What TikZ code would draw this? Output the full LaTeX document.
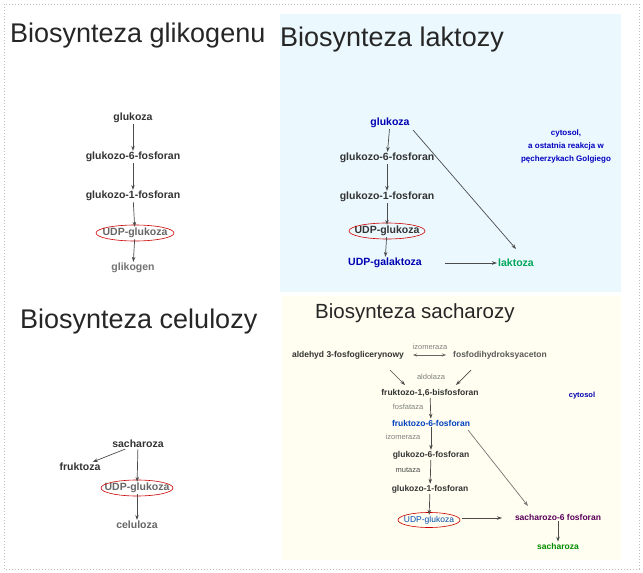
\documentclass[tikz,border=0pt]{standalone}
\usepackage{fontspec}
\setmainfont{Liberation Sans}
\usetikzlibrary{arrows.meta}
\begin{document}
\begin{tikzpicture}[x=1pt,y=-1pt,
  lab/.style={font=\bfseries\fontsize{10.5}{11}\selectfont, inner sep=1pt, text=black!80},
  sl/.style={font=\bfseries\fontsize{8.5}{10}\selectfont, inner sep=1pt, text=black!80},
  enz/.style={font=\fontsize{7.5}{8}\selectfont, inner sep=1pt, text=black!50},
  ttl/.style={font=\fontsize{27}{29}\selectfont, anchor=west, inner sep=0pt, text=black!85},
  ar/.style={-{Stealth[length=5pt,width=3.5pt]}, draw=black!70, line width=0.7pt},
  dar/.style={{Stealth[length=4pt,width=3pt]}-{Stealth[length=4pt,width=3pt]}, draw=black!60, line width=0.6pt}]
\useasboundingbox (0,0) rectangle (643,573);
\fill[white] (0,0) rectangle (643,573);
\fill[cyan!8!white] (280,14) rectangle (621,292);
\fill[yellow!6!white] (282,296) rectangle (621,560);
\draw[black!25, dotted, line width=1pt] (4,4) rectangle (639,569);
% Q1
\node[ttl] (t1) at (10,36) {Biosynteza glikogenu};
\node[lab] (a1) at (133,118) {glukoza};
\node[lab] (a2) at (133,157) {glukozo-6-fosforan};
\node[lab] (a3) at (133,196) {glukozo-1-fosforan};
\node[lab, text=black!60] (a4) at (135,233) {UDP-glukoza};
\node[lab, text=black!55] (a5) at (133,268) {glikogen};
\draw[red!80!black, line width=0.6pt] (a4) ellipse (39 and 8);
\draw[ar] (a1) -- (a2); \draw[ar] (a2) -- (a3); \draw[ar] (a3) -- (a4); \draw[ar] (a4) -- (a5);
% Q2
\node[ttl] (t2) at (280,40) {Biosynteza laktozy};
\node[lab, text=blue!70!black] (b1) at (390,123) {glukoza};
\node[lab] (b2) at (387,158) {glukozo-6-fosforan};
\node[lab] (b3) at (387,197) {glukozo-1-fosforan};
\node[lab] (b4) at (387,231) {UDP-glukoza};
\node[lab, text=blue!70!black] (b5) at (385,263) {UDP-galaktoza};
\node[lab, text=teal!70!green] (b6) at (516,263) {laktoza};
\draw[red!80!black, line width=0.6pt] (b4) ellipse (38 and 8);
\node[lab, text=blue!75!black, align=center, font=\bfseries\fontsize{8}{13}\selectfont] (b7) at (566,146) {cytosol,\\a ostatnia reakcja w\\pęcherzykach Golgiego};
\draw[ar] (b1) -- (b2); \draw[ar] (b2) -- (b3); \draw[ar] (b3) -- (b4); \draw[ar] (b4) -- (b5);
\coordinate (b8) at (445,263);
\draw[ar] (b8) -- (b6);
\coordinate (b9) at (413,130);
\coordinate (b10) at (516,249);
\draw[ar] (b9) -- (b10);
% Q3
\node[ttl] (t3) at (20,322) {Biosynteza celulozy};
\node[lab] (c1) at (138,444) {sacharoza};
\node[lab] (c2) at (80,467) {fruktoza};
\node[lab, text=black!60] (c3) at (137,488) {UDP-glukoza};
\node[lab, text=black!60] (c4) at (137,525) {celuloza};
\draw[red!80!black, line width=0.6pt] (c3) ellipse (36 and 8);
\draw[ar] (c1) -- (c2); \draw[ar] (c1) -- (c3); \draw[ar] (c3) -- (c4);
% Q4
\node[ttl, font=\fontsize{20.5}{22}\selectfont] (t4) at (315,313) {Biosynteza sacharozy};
\node[sl] (d1) at (348,355) {aldehyd 3-fosfoglicerynowy};
\node[sl, text=black!65] (d2) at (500,355) {fosfodihydroksyaceton};
\node[enz] (e1) at (430,347) {izomeraza};
\coordinate (d1e) at (413,355); \coordinate (d2w) at (446,355);
\draw[dar] (d1e) -- (d2w);
\node[enz] (e2) at (431,377) {aldolaza};
\node[sl] (d3) at (430,393) {fruktozo-1,6-bisfosforan};
\coordinate (d1s) at (390,370); \coordinate (d2s) at (471,370);
\coordinate (d3a) at (405,385); \coordinate (d3b) at (456,385);
\draw[ar] (d1s) -- (d3a); \draw[ar] (d2s) -- (d3b);
\node[enz] (e3) at (408,407) {fosfataza};
\node[sl, text=blue!50!teal] (d4) at (431,423) {fruktozo-6-fosforan};
\node[enz] (e4) at (403,437) {izomeraza};
\node[sl] (d5) at (431,455) {glukozo-6-fosforan};
\node[enz, text=black!70] (e5) at (408,470) {mutaza};
\node[sl] (d6) at (430,489) {glukozo-1-fosforan};
\node[sl, font=\fontsize{8.5}{10}\selectfont, text=blue!40!teal] (d7) at (429,520) {UDP-glukoza};
\draw[red!80!black, line width=0.6pt] (d7) ellipse (31 and 7.5);
\node[sl, text=violet!70!black] (d8) at (558,517) {sacharozo-6 fosforan};
\node[sl, text=green!55!black] (d9) at (558,546) {sacharoza};
\node[sl, font=\bfseries\fontsize{7.5}{8}\selectfont, text=blue!70!black] (d10) at (582,396) {cytosol};
\draw[ar] (d3) -- (d4); \draw[ar] (d4) -- (d5); \draw[ar] (d5) -- (d6); \draw[ar] (d6) -- (d7);
\coordinate (d7e) at (462,518); \coordinate (d8w) at (502,518);
\draw[ar] (d7e) -- (d8w);
\coordinate (d4e) at (468,430); \coordinate (d8n) at (528,506);
\draw[ar, draw=black!55] (d4e) -- (d8n);
\draw[ar] (d8) -- (d9);
\end{tikzpicture}
\end{document}
